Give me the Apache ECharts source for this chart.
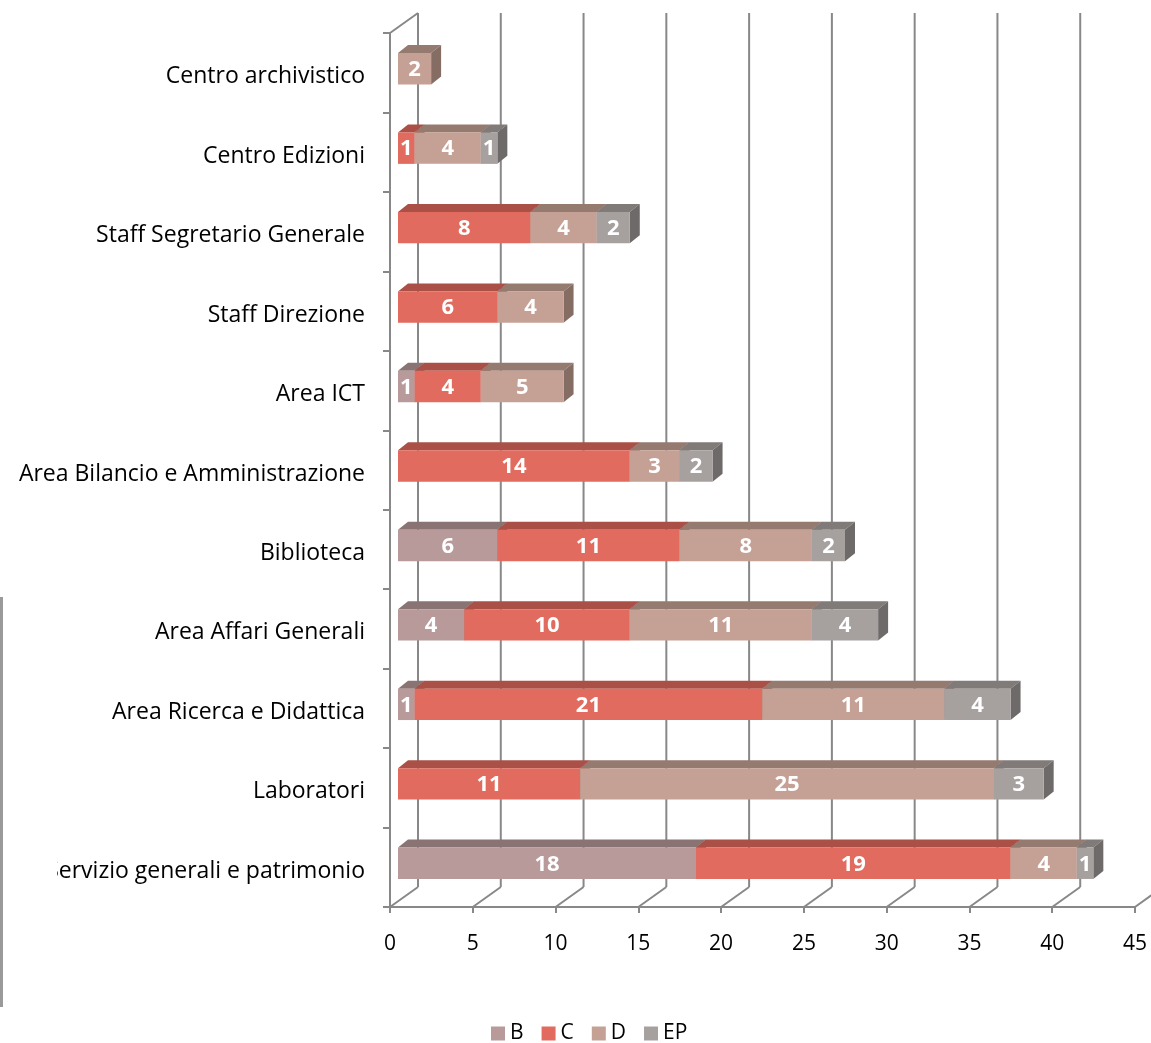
<!DOCTYPE html>
<html>
<head>
<meta charset="utf-8">
<script src="https://cdn.jsdelivr.net/npm/echarts@6/dist/echarts.min.js"></script>
<style>
  html, body { margin: 0; padding: 0; background: #ffffff; }
  #chart { width: 1151px; height: 1043px; }
</style>
</head>
<body>
<div id="chart"></div>
<script>
// Personale per struttura e categoria (B, C, D, EP)
const categories = [
  'Centro archivistico',
  'Centro Edizioni',
  'Staff Segretario Generale',
  'Staff Direzione',
  'Area ICT',
  'Area Bilancio e Amministrazione',
  'Biblioteca',
  'Area Affari Generali',
  'Area Ricerca e Didattica',
  'Laboratori',
  'Servizio generali e patrimonio'
];
const seriesNames = ['B', 'C', 'D', 'EP'];
const valuesB  = [0, 0, 0, 0, 1, 0, 6, 4, 1, 0, 18];
const valuesC  = [0, 1, 8, 6, 4, 14, 11, 10, 21, 11, 19];
const valuesD  = [2, 4, 4, 4, 5, 3, 8, 11, 11, 25, 4];
const valuesEP = [0, 1, 2, 0, 0, 2, 2, 4, 4, 3, 1];
const axisTicks = [0, 5, 10, 15, 20, 25, 30, 35, 40, 45];

// face colours: front, top, side
const palette = {
  B:  { front: '#b89a9a', top: '#8a7373', side: '#7d6868' },
  C:  { front: '#e06b5e', top: '#aa5046', side: '#9a473e' },
  D:  { front: '#c5a094', top: '#957a70', side: '#856d64' },
  EP: { front: '#a6a09f', top: '#807a79', side: '#6e6a69' }
};

const allValues = [valuesB, valuesC, valuesD, valuesEP];
const FONT = '"Open Sans", Lato, sans-serif';
const GRID = '#888888';
const DX = 10, DY = -8;            // bar depth
const WALL_DX = 28, WALL_DY = -20; // back wall depth

// stacked extents per series
const stacked = [];
const running = categories.map(() => 0);
allValues.forEach((vals) => {
  const rows = vals.map((v, i) => {
    const s = running[i];
    running[i] += v;
    return [i, s, s + v, v];
  });
  stacked.push(rows);
});

function renderBar(name) {
  const col = palette[name];
  return function (params, api) {
    const v = api.value(3);
    if (!v) return null;
    const ci = api.value(0);
    const p0 = api.coord([api.value(1), ci]);
    const p1 = api.coord([api.value(2), ci]);
    const band = api.size([0, 1])[1];
    const h = band * 0.395;
    const x0 = p0[0] + 8, x1 = p1[0] + 8;
    const yc = p0[1] - 4;
    const yt = yc - h / 2, yb = yc + h / 2;
    return {
      type: 'group',
      children: [
        { type: 'polygon', shape: { points: [[x0, yt], [x0 + DX, yt + DY], [x1 + DX, yt + DY], [x1, yt]] },
          style: { fill: col.top } },
        { type: 'polygon', shape: { points: [[x1, yt], [x1 + DX, yt + DY], [x1 + DX, yb + DY], [x1, yb]] },
          style: { fill: col.side } },
        { type: 'rect', shape: { x: x0, y: yt, width: x1 - x0, height: h },
          style: { fill: col.front } },
        { type: 'text', x: (x0 + x1) / 2, y: yc + 1,
          style: { text: String(v), fill: '#ffffff', font: 'bold 22px ' + FONT,
                   textAlign: 'center', textVerticalAlign: 'middle' } }
      ]
    };
  };
}

// floor diagonals and back-wall gridlines, one per axis tick
function renderWall(params, api) {
  const v = api.value(0);
  const p = api.coord([v, 0]);
  const cs = params.coordSys;
  const yb = cs.y + cs.height;
  const line = (x1, y1, x2, y2) => ({
    type: 'line', shape: { x1, y1, x2, y2 }, style: { stroke: GRID, lineWidth: 2 }
  });
  const children = [
    line(p[0], yb, p[0] + WALL_DX, yb + WALL_DY),
    line(p[0] + WALL_DX, yb + WALL_DY, p[0] + WALL_DX, cs.y + WALL_DY)
  ];
  if (v === 0) {
    children.push(line(cs.x, cs.y, cs.x + WALL_DX, cs.y + WALL_DY));
  }
  return { type: 'group', children };
}

const barSeries = seriesNames.map((name, k) => ({
  name,
  type: 'custom',
  z: 10 + k,
  renderItem: renderBar(name),
  encode: { x: [1, 2], y: 0 },
  itemStyle: { color: palette[name].front },
  data: stacked[k]
}));

const chart = echarts.init(document.getElementById('chart'), null, { renderer: 'canvas' });
chart.setOption({
  backgroundColor: '#ffffff',
  animation: false,
  textStyle: { fontFamily: FONT },
  grid: { left: 390, top: 33, width: 745, height: 874 },
  xAxis: {
    type: 'value', min: 0, max: 45, interval: 5,
    axisLine: { show: true, lineStyle: { color: GRID, width: 2 } },
    axisTick: { show: true, length: 6, lineStyle: { color: GRID, width: 2 } },
    axisLabel: { color: '#000000', fontSize: 21, margin: 27, fontFamily: FONT },
    splitLine: { show: false }
  },
  yAxis: {
    type: 'category', data: categories, inverse: true,
    axisLine: { show: true, lineStyle: { color: GRID, width: 2 } },
    axisTick: { show: true, length: 7, lineStyle: { color: GRID, width: 2 } },
    axisLabel: { color: '#000000', fontSize: 23, margin: 25, fontFamily: FONT,
                 verticalAlign: 'top', lineHeight: 8 },
    splitLine: { show: false }
  },
  legend: {
    data: seriesNames,
    left: 486,
    top: 1018,
    icon: 'rect',
    itemWidth: 14,
    itemHeight: 14,
    itemGap: 18,
    textStyle: { fontSize: 21, color: '#000000', fontFamily: FONT }
  },
  graphic: [
    // the last category label is cut at x = 57
    { type: 'rect', left: 3, top: 848, z: 100, shape: { width: 54, height: 44 },
      style: { fill: '#ffffff' } },
    { type: 'rect', left: 0, top: 597, z: 101, shape: { width: 3, height: 410 },
      style: { fill: '#9a9a9a' } }
  ],
  series: [
    { type: 'custom', name: 'wall', z: 1, silent: true,
      renderItem: renderWall, encode: { x: 0 },
      data: axisTicks.map((t) => [t]) },
    ...barSeries
  ]
});
</script>
</body>
</html>
